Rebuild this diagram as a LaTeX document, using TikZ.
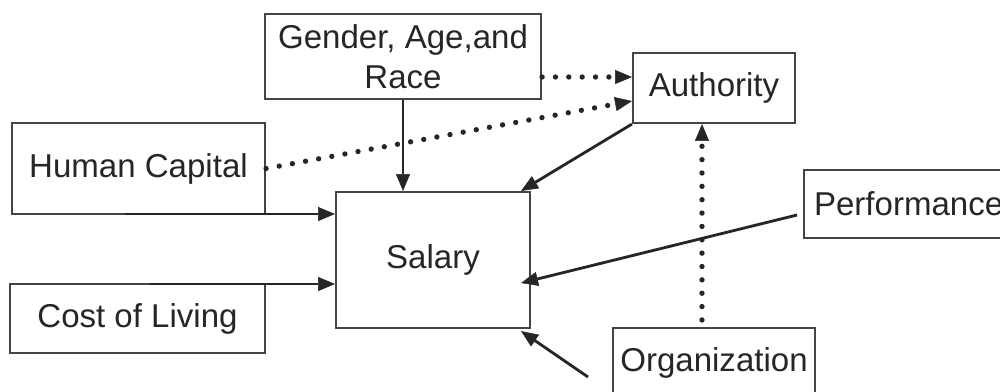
\documentclass[tikz,border=0pt]{standalone}
\usepackage{fontspec}
\setmainfont{Liberation Sans}
\usetikzlibrary{arrows.meta,calc}
\definecolor{ink}{HTML}{262626}
\definecolor{boxc}{HTML}{444444}
\tikzset{
  box/.style={draw=boxc, line width=1.5pt, inner sep=0pt, text=ink,
    font=\fontsize{23.5}{28.5}\selectfont, align=center},
  arr/.style={draw=ink, line width=2pt,
    -{Triangle[length=12pt,width=10pt,line width=0.4pt]}},
  dotline/.style={draw=ink, line width=3.8pt, line cap=round,
    dash pattern=on 0pt off 9.5pt,
    -{Triangle[length=12pt,width=10pt,line width=0.4pt]}}
}
\begin{document}
\begin{tikzpicture}[x=0.025cm,y=-0.025cm]
\useasboundingbox (0,0) rectangle (1000,391);
\clip (0,0) rectangle (1000,391);
\fill[white] (0,0) rectangle (1000,391);

\node[box, minimum width=6.9cm, minimum height=2.125cm] (gender) at (403,56.5) {Gender, Age,and\\Race};
\node[box, minimum width=4.05cm, minimum height=1.75cm] (auth) at (714,88) {Authority};
\node[box, minimum width=6.325cm, minimum height=2.275cm] (hc) at (138.5,168.5) {Human Capital};
\node[box, anchor=west, minimum width=6cm, minimum height=1.7cm, text width=5.5cm, align=left] (perf) at (803,204) {Performance};
\node[box, minimum width=4.85cm, minimum height=3.4cm] (salary) at (433,260) {Salary};
\node[box, minimum width=6.375cm, minimum height=1.725cm] (col) at (137.5,318.5) {Cost of Living};
\node[box, minimum width=5.05cm, minimum height=1.75cm] (org) at (714,363) {Organization};

\coordinate (hcs) at (125,214);
\coordinate (cols) at (150,284);
\coordinate (orgfree) at (588,377);

\draw[arr] (gender.south) -- (gender.south |- salary.north);
\draw[arr] (hcs) -- (hcs -| salary.west);
\draw[arr] (cols) -- (cols -| salary.west);
\draw[arr] (auth.south west) -- ($(salary.north east)+(-10,0)$);
\draw[arr] ($(perf.west)+(-6,11)$) -- ($(salary.east)+(-10,23)$);
\draw[arr] (orgfree) -- ($(salary.south east)+(-10,2)$);

\draw[dotline] (hc.east) -- ($(auth.west)+(0,13)$);
\draw[dotline] ($(gender.east)+(0,20.5)$) -- ($(auth.west)+(0,-11)$);
\draw[dotline] ($(org.north)+(-12,-7)$) -- ($(auth.south)+(-12,0)$);
\end{tikzpicture}
\end{document}
